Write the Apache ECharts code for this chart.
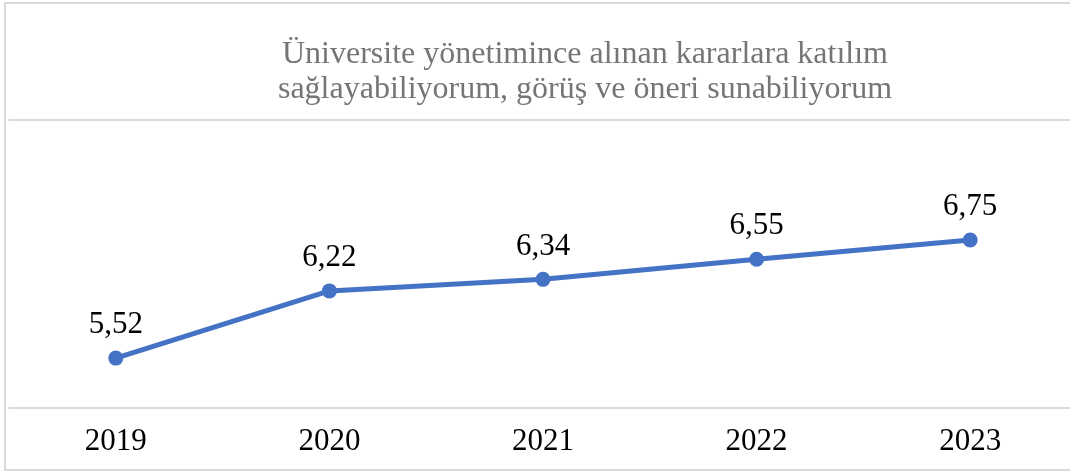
<!DOCTYPE html>
<html>
<head>
<meta charset="utf-8">
<script src="https://cdn.jsdelivr.net/npm/echarts@6/dist/echarts.min.js"></script>
<style>
  html, body { margin: 0; padding: 0; background: #fff; overflow: hidden; }
  #frame {
    position: absolute; left: 4px; top: 2px; width: 1080px; height: 469px;
    border: 2px solid #d9d9d9; box-sizing: border-box;
  }
  /* grafik alanı pencereden biraz taşar, son kategori referanstaki gibi kesilir */
  #chart { position: absolute; left: 0; top: 0; width: 1090px; height: 472px; }
</style>
</head>
<body>
<div id="frame"></div>
<div id="chart"></div>
<script>
// yıllar ve ortalama puanlar
const years = ['2019', '2020', '2021', '2022', '2023'];
const scores = [5.52, 6.22, 6.34, 6.55, 6.75];
const titleLines = [
  'Üniversite yönetimince alınan kararlara katılım',
  'sağlayabiliyorum, görüş ve öneri sunabiliyorum'
];

const chart = echarts.init(document.getElementById('chart'));
const serif = '"Liberation Serif", "DejaVu Serif", serif';

const option = {
  animation: false,
  title: {
    text: titleLines.join('\n'),
    left: 580,
    top: 32,
    textAlign: 'center',
    textStyle: {
      color: '#757575',
      fontFamily: serif,
      fontWeight: 'normal',
      fontSize: 32,
      lineHeight: 35
    }
  },
  grid: {
    left: 9,
    right: 13,
    top: 120,
    bottom: 64,
    containLabel: false
  },
  xAxis: [
    {
      type: 'category',
      data: years,
      boundaryGap: true,
      axisLine: { lineStyle: { color: '#d9d9d9', width: 2 } },
      axisTick: { show: false },
      axisLabel: {
        color: '#000',
        fontFamily: serif,
        fontSize: 31,
        margin: 18
      }
    },
    {
      // üst çizgi
      type: 'category',
      position: 'top',
      data: years,
      axisLine: { lineStyle: { color: '#d9d9d9', width: 2 } },
      axisTick: { show: false },
      axisLabel: { show: false }
    }
  ],
  yAxis: {
    type: 'value',
    min: 5,
    max: 8,
    show: false,
    splitLine: { show: false }
  },
  series: [
    {
      type: 'line',
      data: scores,
      symbol: 'circle',
      symbolSize: 15,
      itemStyle: { color: '#4472c4' },
      lineStyle: { color: '#4472c4', width: 5 },
      label: {
        show: true,
        position: 'top',
        distance: 10,
        color: '#000',
        fontFamily: serif,
        fontSize: 31,
        formatter: p => p.value.toFixed(2).replace('.', ',')
      }
    }
  ]
};

chart.setOption(option);
</script>
</body>
</html>
